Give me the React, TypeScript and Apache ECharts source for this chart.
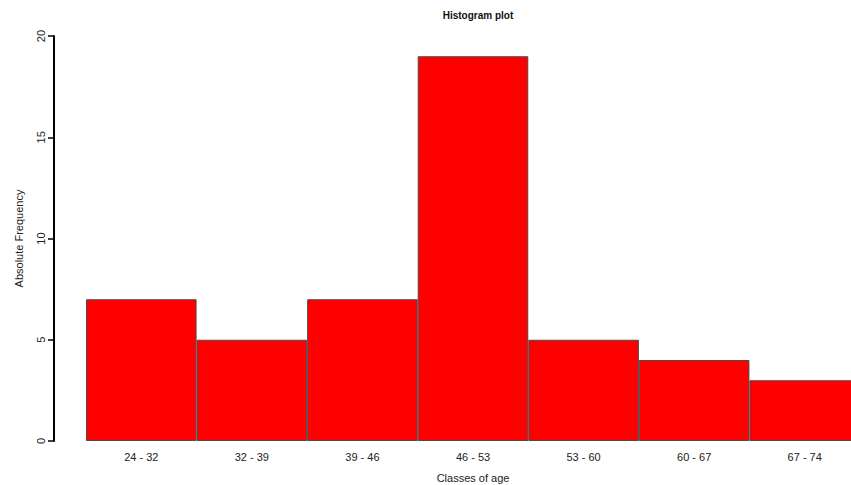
import React, { useEffect, useRef } from "react";
import * as echarts from "echarts";

const categories = ["24 - 32", "32 - 39", "39 - 46", "46 - 53", "53 - 60", "60 - 67", "67 - 74"];
const frequencies = [7, 5, 7, 19, 5, 4, 3];
const yTicks = [0, 5, 10, 15, 20];

const FONT = "Liberation Sans, Arial, sans-serif";

export default function App() {
  const ref = useRef<HTMLDivElement>(null);
  useEffect(() => {
    if (!ref.current) return;
    const chart = echarts.init(ref.current, undefined, { renderer: "svg" });
    chart.setOption({
      animation: false,
      backgroundColor: "#ffffff",
      title: {
        text: "Histogram plot",
        left: 473,
        top: 5,
        textAlign: "center",
        textStyle: { fontFamily: FONT, fontSize: 10, fontWeight: "bold", color: "#111" },
      },
      grid: { left: 86, top: 36, width: 774, height: 405, outerBoundsMode: "none", containLabel: false },
      xAxis: {
        type: "category",
        data: categories,
        boundaryGap: true,
        axisLine: { show: false },
        axisTick: { show: false },
        axisLabel: { fontFamily: FONT, fontSize: 11, color: "#222", margin: 10 },
        name: "Classes of age",
        nameLocation: "middle",
        nameGap: 31,
        nameTextStyle: { fontFamily: FONT, fontSize: 11, color: "#222" },
      },
      yAxis: {
        type: "value",
        min: yTicks[0],
        max: yTicks[yTicks.length - 1],
        interval: 5,
        offset: 32,
        splitLine: { show: false },
        axisLine: { show: true, lineStyle: { color: "#000", width: 2 } },
        axisTick: { show: true, length: 6, lineStyle: { color: "#000", width: 1.5 } },
        axisLabel: { fontFamily: FONT, fontSize: 11, color: "#222", rotate: 90, margin: 8 },
        name: "Absolute Frequency",
        nameLocation: "middle",
        nameRotate: 90,
        nameGap: 30,
        nameTextStyle: { fontFamily: FONT, fontSize: 11, color: "#222" },
      },
      series: [
        {
          type: "bar",
          data: frequencies,
          barCategoryGap: 0,
          itemStyle: { color: "#ff0000", borderColor: "#4a4a4a", borderWidth: 1 },
        },
      ],
    });
    return () => chart.dispose();
  }, []);
  return (
    <div
      ref={ref}
      style={{ position: "absolute", left: 0, top: 0, width: 851, height: 485, overflow: "hidden" }}
    />
  );
}
